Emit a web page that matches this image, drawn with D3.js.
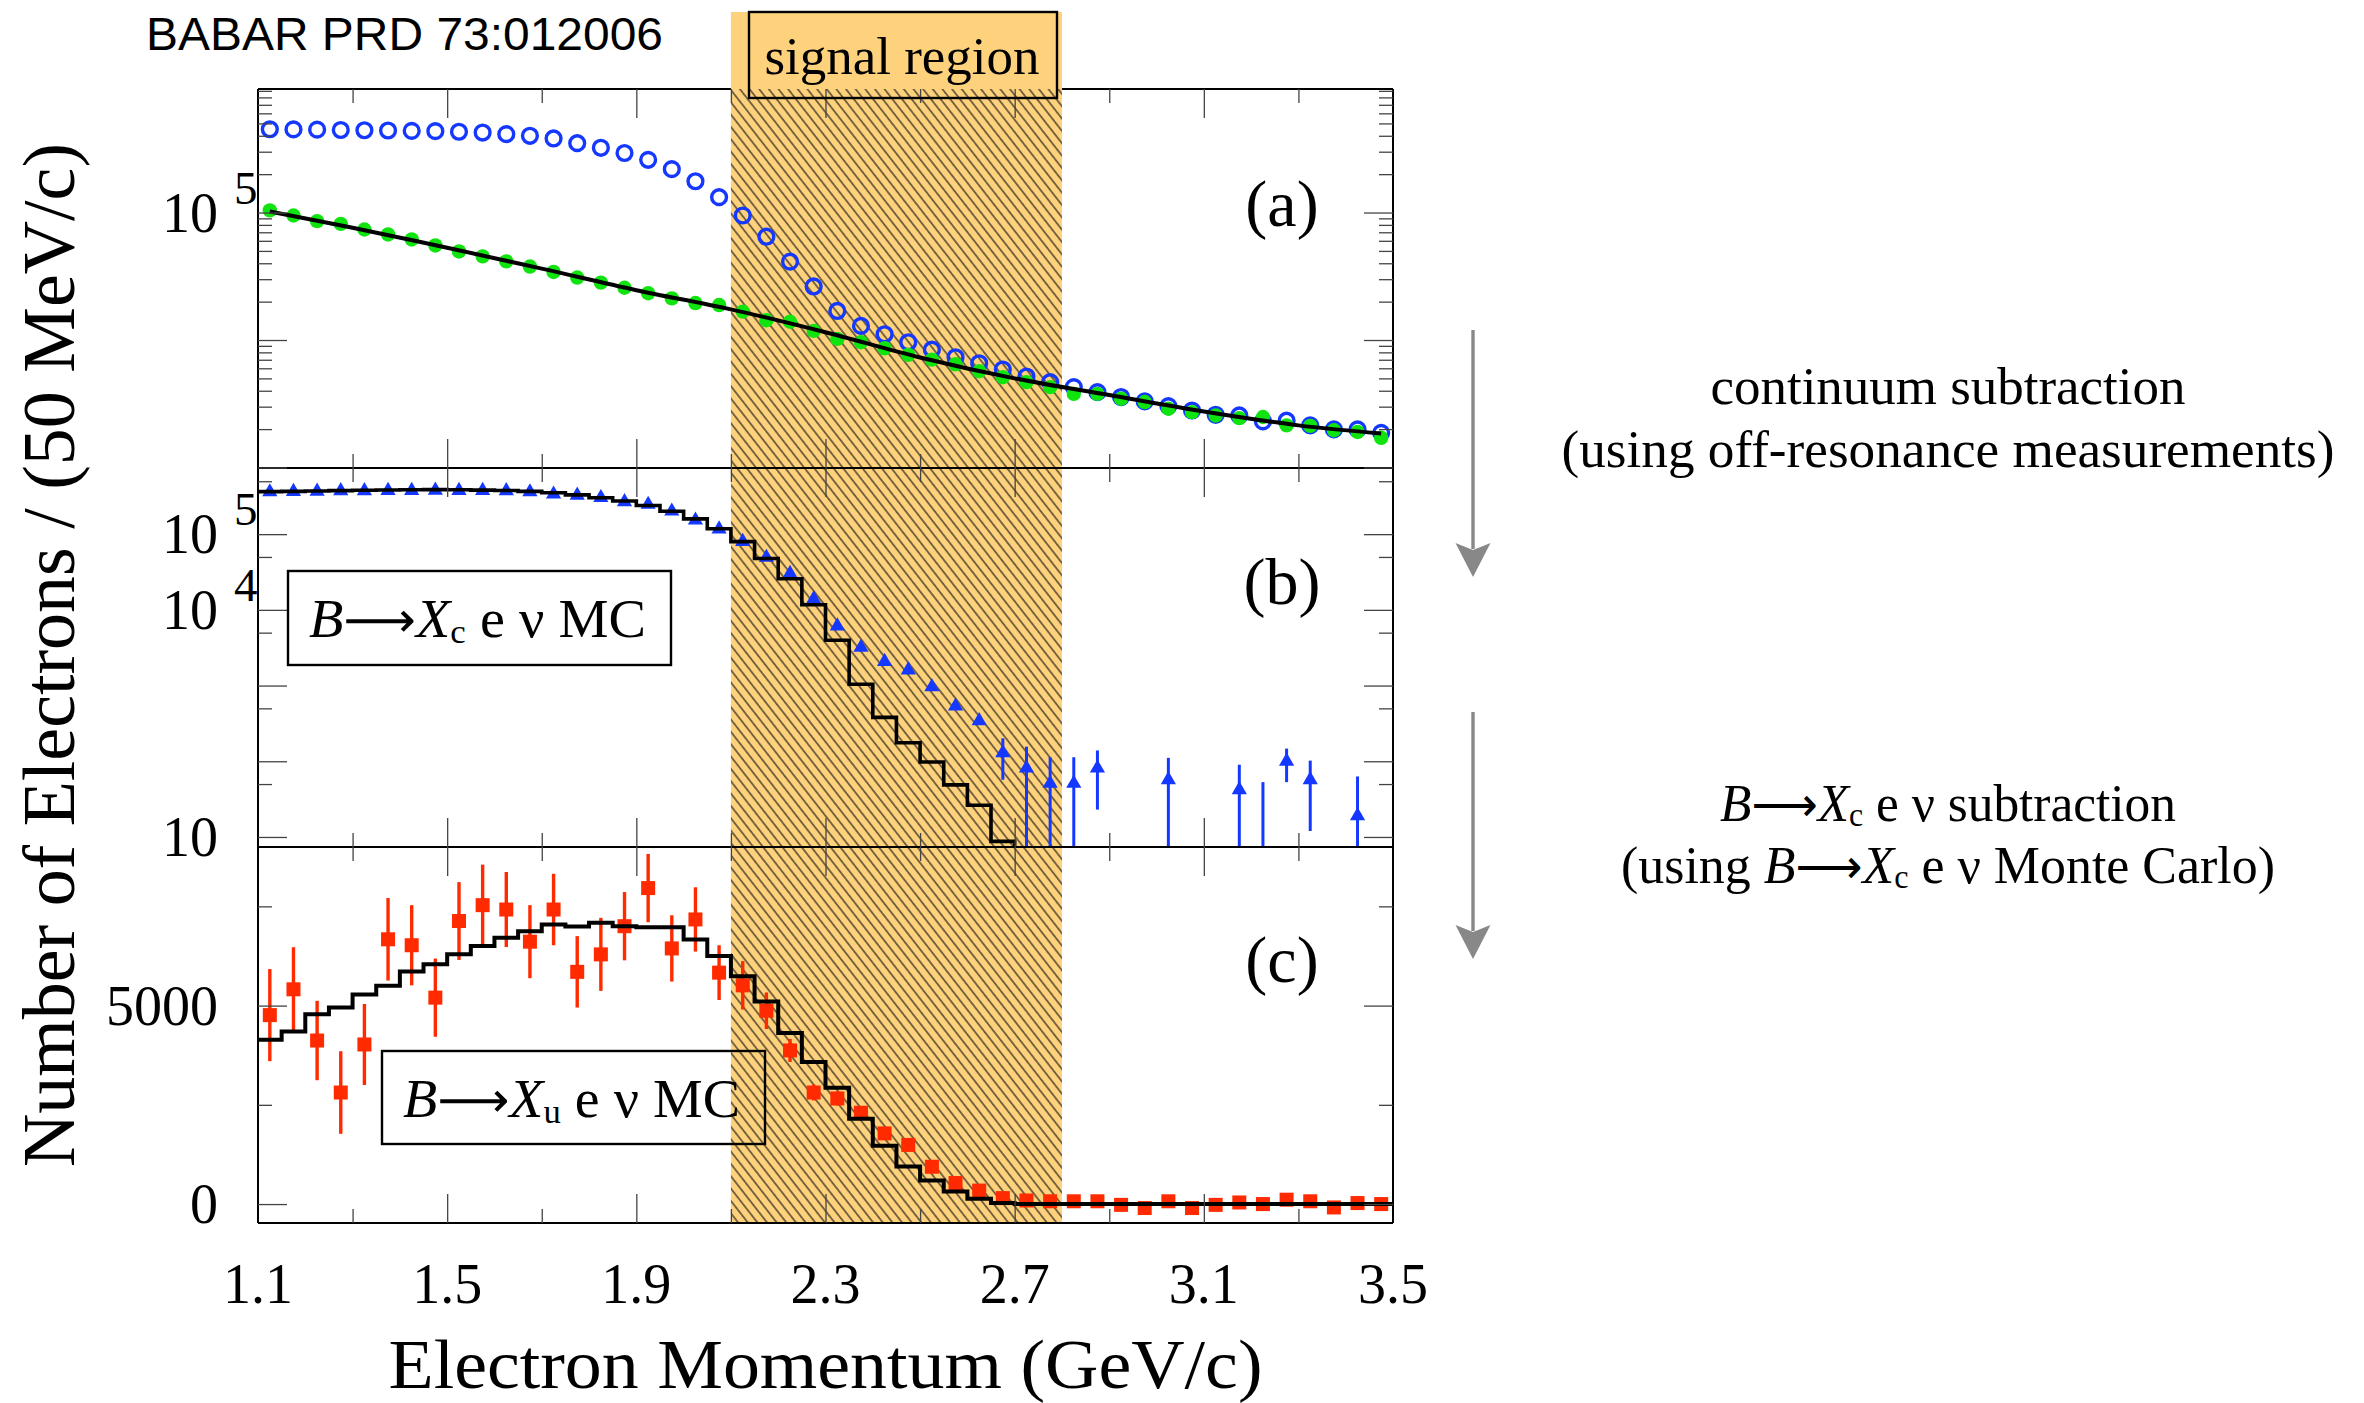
<!DOCTYPE html>
<html>
<head>
<meta charset="utf-8">
<script src="https://cdn.jsdelivr.net/npm/d3@7"></script>
<style>
  html, body { margin: 0; padding: 0; background: #fff; }
  svg { display: block; }
  text { font-family: "Liberation Serif", "Times New Roman", serif; fill: #000; }
</style>
</head>
<body>
<svg id="fig" width="2364" height="1403"></svg>
<script>
// Electron momentum spectrum, 50 MeV bins from 1.1 to 3.5 GeV/c.
const momentum = [1.125, 1.175, 1.225, 1.275, 1.325, 1.375, 1.425, 1.475, 1.525, 1.575, 1.625, 1.675,
  1.725, 1.775, 1.825, 1.875, 1.925, 1.975, 2.025, 2.075, 2.125, 2.175, 2.225, 2.275,
  2.325, 2.375, 2.425, 2.475, 2.525, 2.575, 2.625, 2.675, 2.725, 2.775, 2.825, 2.875,
  2.925, 2.975, 3.025, 3.075, 3.125, 3.175, 3.225, 3.275, 3.325, 3.375, 3.425, 3.475];
const binHalf = 0.025;
const signalRegion = [2.1, 2.8];

// (a) on-resonance data (open) and scaled off-resonance data (filled) + continuum fit
const onPeak = [4.50e5, 4.49e5, 4.47e5, 4.44e5, 4.42e5, 4.40e5, 4.37e5, 4.35e5, 4.30e5, 4.24e5, 4.12e5, 4.00e5,
  3.81e5, 3.50e5, 3.22e5, 2.93e5, 2.59e5, 2.19e5, 1.76e5, 1.32e5, 9.48e4, 6.46e4, 4.12e4, 2.63e4,
  1.69e4, 1.29e4, 1.11e4, 9.60e3, 8.40e3, 7.32e3, 6.57e3, 5.87e3, 5.17e3, 4.67e3, 4.27e3, 3.90e3,
  3.57e3, 3.30e3, 3.03e3, 2.80e3, 2.59e3, 2.56e3, 2.30e3, 2.33e3, 2.14e3, 1.99e3, 1.99e3, 1.87e3];
const offPeak = [1.04e5, 9.48e4, 8.56e4, 8.15e4, 7.36e4, 6.73e4, 6.15e4, 5.52e4, 4.95e4, 4.53e4, 4.14e4, 3.77e4,
  3.42e4, 3.09e4, 2.82e4, 2.57e4, 2.33e4, 2.12e4, 1.95e4, 1.88e4, 1.67e4, 1.43e4, 1.39e4, 1.18e4,
  1.02e4, 9.60e3, 8.61e3, 7.64e3, 7.02e3, 6.45e3, 5.69e3, 5.11e3, 4.67e3, 4.27e3, 3.78e3, 3.78e3,
  3.46e3, 3.26e3, 2.89e3, 2.72e3, 2.56e3, 2.44e3, 2.49e3, 2.14e3, 2.12e3, 1.96e3, 1.90e3, 1.71e3];
const fitP = [1.125, 1.3, 1.5, 1.7, 1.9, 2.1, 2.3, 2.5, 2.7, 2.9, 3.1, 3.3, 3.475];
const fitV = [1.02e5, 7.6e4, 5.3e4, 3.63e4, 2.46e4, 1.74e4, 1.15e4, 7.3e3, 5.0e3, 3.7e3, 2.75e3, 2.14e3, 1.85e3];

// (b) continuum-subtracted data and B -> Xc e nu MC
const bData = [3.61e5, 3.65e5, 3.69e5, 3.73e5, 3.73e5, 3.77e5, 3.77e5, 3.80e5, 3.77e5, 3.77e5, 3.73e5, 3.61e5,
  3.37e5, 3.26e5, 3.03e5, 2.68e5, 2.47e5, 2.01e5, 1.53e5, 1.17e5, 7.98e4, 4.92e4, 3.01e4, 1.39e4,
  6.11e3, 3.19e3, 2.07e3, 1.60e3, 959, 534, 343, 129, 81, 51, 51, 81,
  null, null, 57, null, null, 42, 3, 100, 57, null, 19, null];
const bErr = [0, 0, 0, 0, 0, 0, 0, 0, 0, 0, 0, 0, 0, 0, 0, 0, 0, 0, 0, 0, 0, 0, 0, 0,
  0, 0, 0, 0, 0, 0, 0, 72, 75, 62, 62, 58, 0, 0, 54, 0, 0, 48, 50, 47, 45, 0, 44, 0];
const bMC = [3.65e5, 3.68e5, 3.72e5, 3.76e5, 3.80e5, 3.83e5, 3.86e5, 3.88e5, 3.86e5, 3.82e5, 3.78e5, 3.68e5,
  3.52e5, 3.30e5, 3.03e5, 2.74e5, 2.39e5, 2.01e5, 1.59e5, 1.18e5, 7.98e4, 4.77e4, 2.58e4, 1.17e4,
  3.96e3, 1.04e3, 380, 176, 98, 48.7, 26.3, 8.75, 0, 0, 0, 0, 0, 0, 0, 0, 0, 0, 0, 0, 0, 0, 0, 0];

// (c) B -> Xu e nu signal after subtraction, and signal MC
const cData = [4760, 5410, 4120, 2810, 4020, 6670, 6520, 5200, 7130, 7530, 7420, 6610,
  7420, 5850, 6290, 7000, 7960, 6440, 7170, 5830, 5510, 4870, 3870, 2810,
  2660, 2300, 1780, 1490, 940, 530, 340, 150, 90, 70, 70, 70,
  -20, -100, 70, -100, -20, 40, 0, 110, 70, -85, 25, 0];
const cErr = [1160, 1060, 1000, 1040, 1020, 1040, 1010, 985, 980, 1020, 945, 920,
  900, 900, 920, 860, 860, 835, 810, 690, 610, 460, 290, 200,
  180, 160, 150, 140, 130, 120, 110, 110, 110, 110, 110, 110,
  110, 110, 110, 110, 110, 110, 110, 110, 110, 110, 110, 110];
const cMC = [4140, 4350, 4780, 4950, 5280, 5500, 5856, 6040, 6291, 6499, 6708, 6875,
  7042, 6992, 7084, 7001, 6976, 6976, 6667, 6249, 5739, 5104, 4311, 3576,
  2932, 2147, 1470, 944, 593, 317, 134, 25, 0, 0, 0, 0, 0, 0, 0, 0, 0, 0, 0, 0, 0, 0, 0, 0];

const xMajor = [1.5, 1.9, 2.3, 2.7, 3.1];
const xMinor = [1.3, 1.7, 2.1, 2.5, 2.9, 3.3];
const xLabels = [1.1, 1.5, 1.9, 2.3, 2.7, 3.1, 3.5];

const BLUE = "#1438ff", GREEN = "#0fe40f", RED = "#ff2a00", ORANGE = "#fed27c";

const svg = d3.select("#fig");
const X0 = 258, X1 = 1393;
const P = { a: [89, 468], b: [468, 847], c: [847, 1223] };

const x = d3.scaleLinear().domain([1.1, 3.5]).range([X0, X1]);
const yA = d3.scaleLog().domain([10 ** 2.996, 10 ** 5.969]).range([P.a[1], P.a[0]]);
const yB = d3.scaleLog().domain([10 ** 0.8675, 10 ** 5.874]).range([P.b[1], P.b[0]]);
const yC = d3.scaleLinear().domain([-477, 8995]).range([P.c[1], P.c[0]]);

const defs = svg.append("defs");
Object.entries(P).forEach(([k, [t, b]]) => {
  defs.append("clipPath").attr("id", "clip-" + k)
    .append("rect").attr("x", X0).attr("y", t).attr("width", X1 - X0).attr("height", b - t);
});
const pat = defs.append("pattern").attr("id", "hatch").attr("patternUnits", "userSpaceOnUse")
  .attr("width", 7.6).attr("height", 20).attr("patternTransform", "rotate(-38)");
pat.append("line").attr("x1", 3.8).attr("y1", 0).attr("x2", 3.8).attr("y2", 20)
  .attr("stroke", "#111").attr("stroke-width", 1.1);

// top frame line goes under the signal band
svg.append("line").attr("x1", X0).attr("x2", X1).attr("y1", P.a[0]).attr("y2", P.a[0])
  .attr("stroke", "#000").attr("stroke-width", 2);

// signal region band
const bx0 = x(signalRegion[0]), bx1 = x(signalRegion[1]);
svg.append("rect").attr("x", bx0).attr("y", 12).attr("width", bx1 - bx0).attr("height", P.c[1] - 12)
  .attr("fill", ORANGE);
svg.append("rect").attr("x", bx0).attr("y", P.a[0]).attr("width", bx1 - bx0).attr("height", P.c[1] - P.a[0])
  .attr("fill", "url(#hatch)");

// ---- panel (a)
const gA = svg.append("g").attr("clip-path", "url(#clip-a)");
gA.selectAll("circle.on").data(momentum).join("circle")
  .attr("cx", d => x(d)).attr("cy", (d, i) => yA(onPeak[i])).attr("r", 7.4)
  .attr("fill", "none").attr("stroke", BLUE).attr("stroke-width", 3.4);
gA.selectAll("circle.off").data(momentum).join("circle")
  .attr("cx", d => x(d)).attr("cy", (d, i) => yA(offPeak[i])).attr("r", 7.2)
  .attr("fill", GREEN);
gA.append("path")
  .attr("d", d3.line().x(d => x(d)).y((d, i) => yA(fitV[i])).curve(d3.curveCatmullRom)(fitP))
  .attr("fill", "none").attr("stroke", "#000").attr("stroke-width", 4);

// step histogram helper
function histPath(vals, y, floor) {
  const pts = momentum.map((m, i) => [m - binHalf, vals[i]]);
  pts.push([momentum[momentum.length - 1] + binHalf, vals[vals.length - 1]]);
  return d3.line().x(d => x(d[0])).y(d => y(Math.max(d[1], floor))).curve(d3.curveStepAfter)(pts);
}

// ---- panel (b)
const gB = svg.append("g").attr("clip-path", "url(#clip-b)");
const bMin = yB.domain()[0];
const bIdx = d3.range(momentum.length).filter(i => bData[i] !== null);
gB.selectAll("line.err").data(bIdx.filter(i => bErr[i] > 0)).join("line")
  .attr("x1", i => x(momentum[i])).attr("x2", i => x(momentum[i]))
  .attr("y1", i => yB(Math.max(bData[i] - bErr[i], bMin * 0.9)))
  .attr("y2", i => yB(bData[i] + bErr[i]))
  .attr("stroke", BLUE).attr("stroke-width", 3);
gB.selectAll("path.tri").data(bIdx).join("path")
  .attr("transform", i => `translate(${x(momentum[i])},${yB(Math.max(bData[i], bMin * 0.5))})`)
  .attr("d", d3.symbol(d3.symbolTriangle, 100)())
  .attr("fill", BLUE);
gB.append("path").attr("d", histPath(bMC, yB, bMin * 0.9))
  .attr("fill", "none").attr("stroke", "#000").attr("stroke-width", 3.6);

// ---- panel (c)
const gC = svg.append("g").attr("clip-path", "url(#clip-c)");
gC.selectAll("line.err").data(momentum).join("line")
  .attr("x1", d => x(d)).attr("x2", d => x(d))
  .attr("y1", (d, i) => yC(cData[i] - cErr[i])).attr("y2", (d, i) => yC(cData[i] + cErr[i]))
  .attr("stroke", RED).attr("stroke-width", 3.4);
gC.selectAll("rect.pt").data(momentum).join("rect")
  .attr("x", d => x(d) - 7).attr("y", (d, i) => yC(cData[i]) - 7)
  .attr("width", 14).attr("height", 14).attr("fill", RED);
gC.append("path").attr("d", histPath(cMC, yC, -1e9))
  .attr("fill", "none").attr("stroke", "#000").attr("stroke-width", 4);

// ---- frames
const frame = svg.append("g").attr("stroke", "#000").attr("stroke-width", 2);
[P.a[1], P.b[1], P.c[1]].forEach(yy =>
  frame.append("line").attr("x1", X0).attr("x2", X1).attr("y1", yy).attr("y2", yy));
[X0, X1].forEach(xx =>
  frame.append("line").attr("x1", xx).attr("x2", xx).attr("y1", P.a[0]).attr("y2", P.c[1]));

// ---- ticks via d3 axes
function styleAxis(g) {
  g.select(".domain").remove();
  g.selectAll(".tick line").attr("stroke", "#444").attr("stroke-width", 1.3);
  g.selectAll("text").remove();
}
function xTicks([top, bot]) {
  [[xMajor, 29], [xMinor, 14]].forEach(([vals, len]) => {
    svg.append("g").attr("transform", `translate(0,${top})`)
      .call(d3.axisBottom(x).tickValues(vals).tickSize(len).tickFormat("")).call(styleAxis);
    svg.append("g").attr("transform", `translate(0,${bot})`)
      .call(d3.axisTop(x).tickValues(vals).tickSize(len).tickFormat("")).call(styleAxis);
  });
}
function yTicks(y, major, minor) {
  [[major, 29], [minor, 14]].forEach(([vals, len]) => {
    svg.append("g").attr("transform", `translate(${X0},0)`)
      .call(d3.axisRight(y).tickValues(vals).tickSize(len).tickFormat("")).call(styleAxis);
    svg.append("g").attr("transform", `translate(${X1},0)`)
      .call(d3.axisLeft(y).tickValues(vals).tickSize(len).tickFormat("")).call(styleAxis);
  });
}
xTicks(P.a); xTicks(P.b); xTicks(P.c);
const aMinor = [];
[1e3, 1e4, 1e5].forEach(dec => d3.range(2, 10).forEach(k => aMinor.push(k * dec)));
yTicks(yA, [1e3, 1e4, 1e5], aMinor.filter(v => v < yA.domain()[1]));
yTicks(yB, [10, 1e2, 1e3, 1e4, 1e5], [50, 500, 5e3, 5e4, 5e5]);
yTicks(yC, [0, 5000], [2500, 7500]);

// ---- tick labels
const aLabelVals = [1e5], aLabelExp = ["5"];
const bLabelVals = [1e5, 1e4, 10], bLabelExp = ["5", "4", ""];
const cLabelVals = [0, 5000];
function powLabels(y, vals, exps) {
  vals.forEach((v, i) => {
    const ty = y(v);
    svg.append("text").attr("x", 218).attr("y", ty + 19).attr("text-anchor", "end")
      .attr("font-size", 56).text("10");
    if (exps[i]) svg.append("text").attr("x", 234).attr("y", ty - 9).attr("font-size", 47).text(exps[i]);
  });
}
powLabels(yA, aLabelVals, aLabelExp);
powLabels(yB, bLabelVals, bLabelExp);
cLabelVals.forEach(v => svg.append("text").attr("x", 218).attr("y", yC(v) + 19)
  .attr("text-anchor", "end").attr("font-size", 56).text(v));
xLabels.forEach(v => svg.append("text").attr("x", x(v)).attr("y", 1303)
  .attr("text-anchor", "middle").attr("font-size", 56).text(v.toFixed(1)));

// ---- axis titles
svg.append("text").attr("x", (X0 + X1) / 2).attr("y", 1388).attr("text-anchor", "middle")
  .attr("font-size", 70).attr("textLength", 874).attr("lengthAdjust", "spacingAndGlyphs")
  .text("Electron Momentum (GeV/c)");
svg.append("text").attr("transform", "translate(74,655) rotate(-90)").attr("text-anchor", "middle")
  .attr("font-size", 74).attr("textLength", 1024).attr("lengthAdjust", "spacingAndGlyphs")
  .text("Number of Electrons / (50 MeV/c)");

// ---- signal region box
svg.append("rect").attr("x", 749).attr("y", 12).attr("width", 308).attr("height", 86)
  .attr("fill", "none").attr("stroke", "#000").attr("stroke-width", 2.4);
svg.append("text").attr("x", 902).attr("y", 74).attr("text-anchor", "middle")
  .attr("font-size", 53).attr("textLength", 275).attr("lengthAdjust", "spacingAndGlyphs")
  .text("signal region");

svg.append("text").attr("x", 146).attr("y", 50).attr("font-size", 47)
  .style("font-family", "'Liberation Sans', Arial, sans-serif")
  .attr("textLength", 517).attr("lengthAdjust", "spacingAndGlyphs")
  .text("BABAR PRD 73:012006");

// ---- panel letters
[["(a)", 226], ["(b)", 604], ["(c)", 982]].forEach(([t, yy]) =>
  svg.append("text").attr("x", 1282).attr("y", yy).attr("text-anchor", "middle")
    .attr("font-size", 66).text(t));

// ---- decay labels
function decayText(xPos, yPos, size, pre, sub, tail, len, anchor) {
  const t = svg.append("text").attr("x", xPos).attr("y", yPos).attr("font-size", size)
    .attr("text-anchor", anchor || "start");
  if (pre) t.append("tspan").text(pre);
  t.append("tspan").attr("font-style", "italic").text("B");
  t.append("tspan").style("font-family", "'DejaVu Sans', sans-serif").attr("font-size", size * 0.9).text("⟶");
  t.append("tspan").attr("font-style", "italic").text("X");
  t.append("tspan").attr("font-size", size * 0.62).attr("dy", size * 0.1).text(sub);
  t.append("tspan").attr("dy", -size * 0.1).text(" e ν " + tail);
  if (len) t.attr("textLength", len).attr("lengthAdjust", "spacingAndGlyphs");
  return t;
}
svg.append("rect").attr("x", 288).attr("y", 571).attr("width", 383).attr("height", 94)
  .attr("fill", "none").attr("stroke", "#000").attr("stroke-width", 2.4);
decayText(309, 637, 55, "", "c", "MC", 337);
svg.append("rect").attr("x", 382).attr("y", 1051).attr("width", 383).attr("height", 93)
  .attr("fill", "none").attr("stroke", "#000").attr("stroke-width", 2.4);
decayText(403, 1117, 55, "", "u", "MC", 337);

// ---- right-hand annotations
const ARROW_X = 1473;
[[330, 577], [712, 959]].forEach(([y0, tip]) => {
  svg.append("line").attr("x1", ARROW_X).attr("x2", ARROW_X).attr("y1", y0).attr("y2", tip - 28)
    .attr("stroke", "#888").attr("stroke-width", 3.4);
  svg.append("path")
    .attr("d", `M${ARROW_X},${tip} L${ARROW_X - 17.5},${tip - 34} L${ARROW_X},${tip - 27} L${ARROW_X + 17.5},${tip - 34} Z`)
    .attr("fill", "#888");
});
const CX = 1948;
svg.append("text").attr("x", CX).attr("y", 404).attr("text-anchor", "middle").attr("font-size", 53)
  .attr("textLength", 475).attr("lengthAdjust", "spacingAndGlyphs").text("continuum subtraction");
svg.append("text").attr("x", CX).attr("y", 467).attr("text-anchor", "middle").attr("font-size", 53)
  .attr("textLength", 773).attr("lengthAdjust", "spacingAndGlyphs").text("(using off-resonance measurements)");
decayText(CX, 821, 53, "", "c", "subtraction", 456, "middle");
decayText(CX, 883, 53, "(using ", "c", "Monte Carlo)", 654, "middle");
</script>
</body>
</html>
